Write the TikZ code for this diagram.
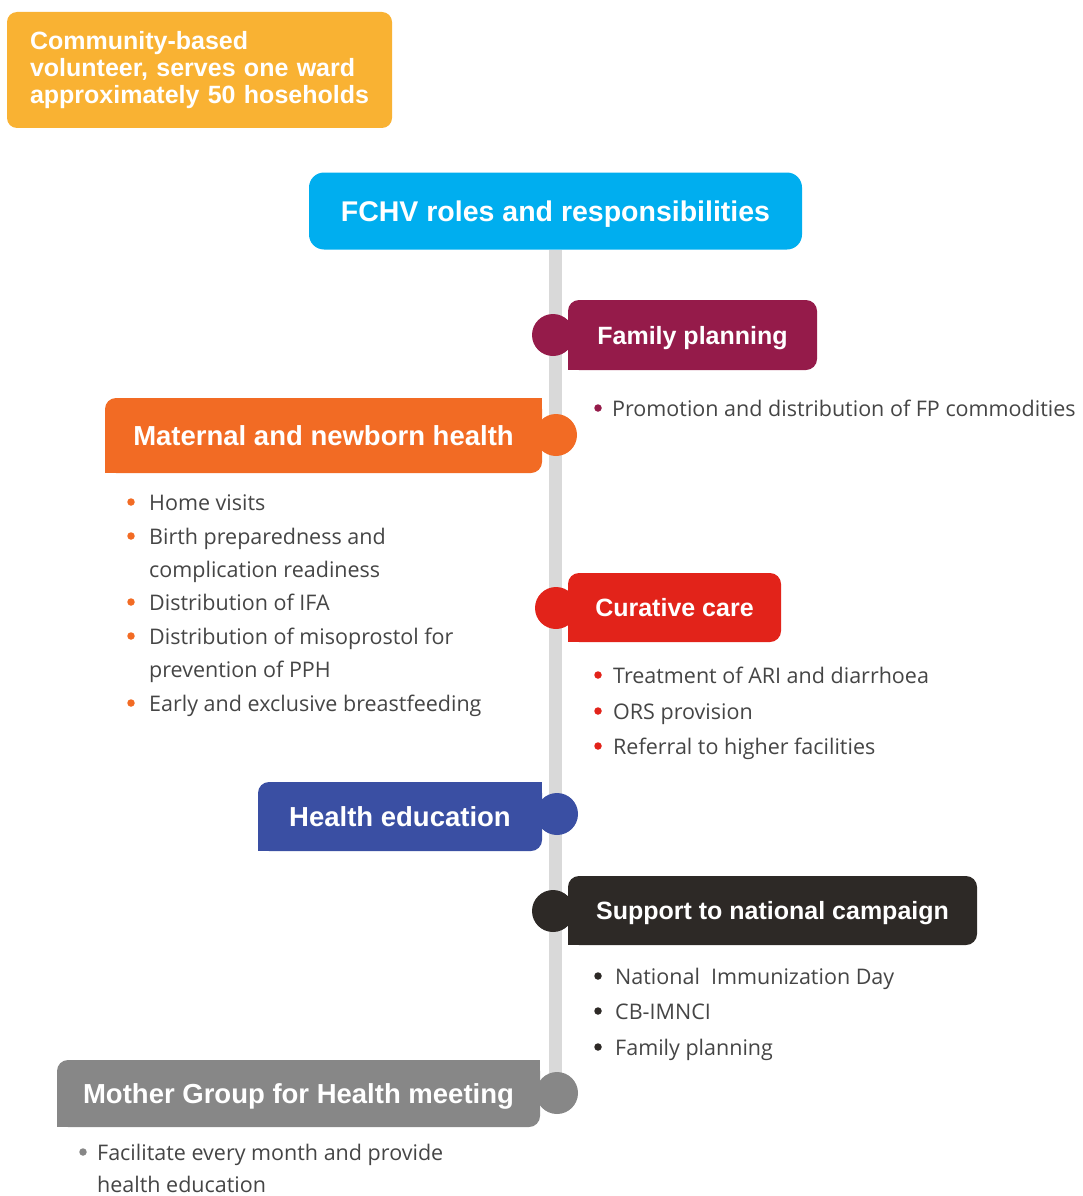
\documentclass[tikz,border=0pt]{standalone}
\usepackage{fontspec}
\setmainfont{Open Sans}
\newfontfamily\headfam{Liberation Sans}
\usetikzlibrary{backgrounds}

\definecolor{volyellow}{HTML}{F9B233}
\definecolor{fchvblue}{HTML}{00AEEF}
\definecolor{fpcol}{HTML}{951B4A}
\definecolor{mnhcol}{HTML}{F26B24}
\definecolor{cccol}{HTML}{E2231A}
\definecolor{hecol}{HTML}{3A4FA3}
\definecolor{snccol}{HTML}{2D2926}
\definecolor{mghcol}{HTML}{878787}
\definecolor{spinegray}{HTML}{D9D9D9}
\definecolor{bodygray}{HTML}{454545}

\tikzset{
  headbox/.style={rounded corners=11pt, inner sep=0pt, text=white,
    text height=18pt, text depth=0pt,
    font=\headfam\bfseries\fontsize{25}{30}\selectfont},
  bighead/.style={text height=19.7pt,
    font=\headfam\bfseries\fontsize{27.5}{32}\selectfont},
  joint/.style={circle, inner sep=0pt, minimum size=42pt},
  item/.style={anchor=west, inner sep=0pt, text height=18pt, text depth=2pt,
    text=bodygray, font=\fontsize{21.5}{26}\selectfont},
  dot/.style={circle, inner sep=0pt, minimum size=7.5pt},
  spine/.style={line width=13pt, draw=spinegray},
}

\begin{document}
\begin{tikzpicture}[x=1pt,y=-1pt]
  \useasboundingbox (0,0) rectangle (1083,1196);

  % volunteer note
  \node[fill=volyellow, rounded corners=10pt, minimum height=116pt, inner xsep=23pt,
    text width=339pt, align=left, text=white,
    font=\headfam\bfseries\fontsize{25}{27}\selectfont] (vol) at (199.5,70)
    {Community-based\\volunteer, serves one ward\\approximately 50 hoseholds};

  % title
  \node[headbox, fill=fchvblue, rounded corners=15pt, minimum width=493pt, minimum height=77pt,
    text height=20.4pt, font=\headfam\bfseries\fontsize{28.5}{34}\selectfont] (fchv) at (555.5,211)
    {FCHV roles and responsibilities};

  % family planning
  \node[joint, fill=fpcol] (fpdot) at (553,335) {};
  \node[headbox, fill=fpcol, minimum width=249pt, minimum height=70pt] (fp) at (692.5,335) {Family planning};
  \fill[fpcol] (fp.south west) rectangle ++(12,-12);

  % maternal and newborn health
  \node[joint, fill=mnhcol] (mnhdot) at (556,435) {};
  \node[headbox, bighead, fill=mnhcol, minimum width=437pt, minimum height=75pt] (mnh) at (323.5,435.5) {Maternal and newborn health};
  \fill[mnhcol] (mnh.south west) rectangle ++(12,-12);
  \fill[mnhcol] (mnh.north east) rectangle ++(-12,12);

  % curative care
  \node[joint, fill=cccol] (ccdot) at (556,608) {};
  \node[headbox, fill=cccol, minimum width=213pt, minimum height=69pt] (cc) at (674.5,607.5) {Curative care};
  \fill[cccol] (cc.south west) rectangle ++(12,-12);

  % health education
  \node[joint, fill=hecol] (hedot) at (557,814) {};
  \node[headbox, bighead, fill=hecol, minimum width=284pt, minimum height=69pt] (he) at (400,816.5) {Health education};
  \fill[hecol] (he.south west) rectangle ++(12,-12);
  \fill[hecol] (he.north east) rectangle ++(-12,12);

  % support to national campaign
  \node[joint, fill=snccol] (sncdot) at (553,911) {};
  \node[headbox, fill=snccol, minimum width=409pt, minimum height=69pt] (snc) at (772.5,910.5) {Support to national campaign};
  \fill[snccol] (snc.south west) rectangle ++(12,-12);

  % mother group
  \node[joint, fill=mghcol] (mghdot) at (557,1093) {};
  \node[headbox, bighead, fill=mghcol, minimum width=483pt, minimum height=67pt] (mgh) at (298.5,1093.5) {Mother Group for Health meeting};
  \fill[mghcol] (mgh.south west) rectangle ++(12,-12);
  \fill[mghcol] (mgh.north east) rectangle ++(-12,12);

  % spine behind the joints
  \begin{scope}[on background layer]
    \draw[spine] (fchv.south) -- (fchv.south |- mghdot.center);
  \end{scope}

  % lists
  \node[item] (fp1) at (612,408) {Promotion and distribution of FP commodities};
  \node[dot, fill=fpcol] (fpd1) at ([xshift=-14pt]fp1.west) {};

  \foreach \y/\t [count=\i] in {502/Home visits, 536/Birth preparedness and,
      569/complication readiness, 602/Distribution of IFA,
      636/Distribution of misoprostol for, 669/prevention of PPH,
      703/Early and exclusive breastfeeding}
    \node[item] (mnh\i) at (149,\y) {\t};
  \foreach \i in {1,2,4,5,7}
    \node[dot, fill=mnhcol] (mnhd\i) at ([xshift=-18pt]mnh\i.west) {};

  \foreach \y/\t [count=\i] in {675/Treatment of ARI and diarrhoea, 711/ORS provision,
      746/Referral to higher facilities} {
    \node[item] (cc\i) at (613,\y) {\t};
    \node[dot, fill=cccol] (ccd\i) at ([xshift=-15pt]cc\i.west) {};
  }

  \foreach \y/\t [count=\i] in {976/National\ \ Immunization Day, 1011/CB-IMNCI,
      1047/Family planning} {
    \node[item] (snc\i) at (615,\y) {\t};
    \node[dot, fill=snccol] (sncd\i) at ([xshift=-17pt]snc\i.west) {};
  }

  \node[item] (mgh1) at (97,1152) {Facilitate every month and provide};
  \node[item] (mgh2) at (97,1184.5) {health education};
  \node[dot, fill=mghcol] (mghd1) at ([xshift=-14pt]mgh1.west) {};
\end{tikzpicture}
\end{document}
